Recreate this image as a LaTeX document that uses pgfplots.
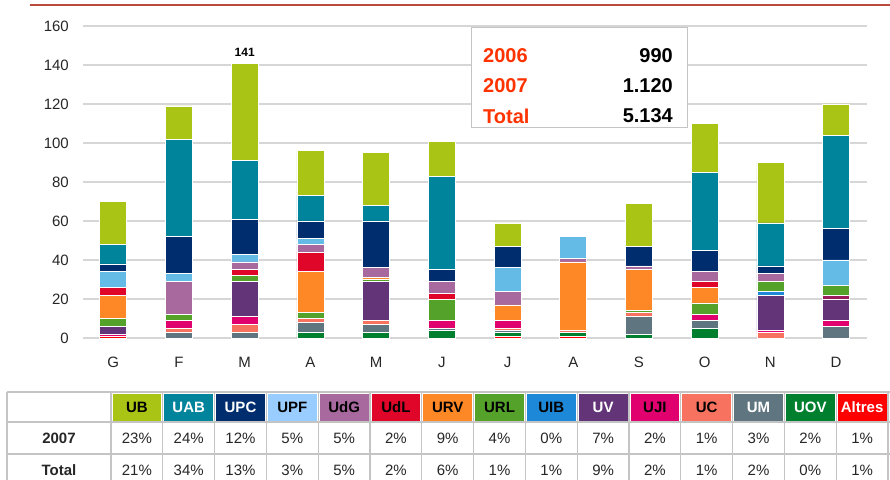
\documentclass[border=0pt]{standalone}
\usepackage{fontspec}
\setmainfont{Liberation Sans}
\usepackage{pgfplots}
\pgfplotsset{compat=1.18}
\usepackage{pgfplotstable}

% bar colours
\definecolor{cAltres}{HTML}{FF0000}
\definecolor{cUOV}{HTML}{00802F}
\definecolor{cUM}{HTML}{5F7580}
\definecolor{cUC}{HTML}{F7735F}
\definecolor{cUJI}{HTML}{E0006E}
\definecolor{cUV}{HTML}{633477}
\definecolor{cUIB}{HTML}{1E88D8}
\definecolor{cDx}{HTML}{9A1C5C}
\definecolor{cURL}{HTML}{55A22B}
\definecolor{cURV}{HTML}{FF8826}
\definecolor{cUdL}{HTML}{E0062A}
\definecolor{cUdG}{HTML}{A7699E}
\definecolor{cUPF}{HTML}{64BBE6}
\definecolor{cUPFh}{HTML}{99CCFF}
\definecolor{cUPC}{HTML}{002D6E}
\definecolor{cUAB}{HTML}{00849C}
\definecolor{cUB}{HTML}{A9C414}
\definecolor{gridgray}{HTML}{D6D6D6}
\definecolor{tabgray}{HTML}{C4C4C4}
\definecolor{boxred}{HTML}{FF3300}
\definecolor{topline}{HTML}{BC4A3C}
\definecolor{txt}{HTML}{262626}

% months G..D, stacked bottom to top
\pgfplotstableread{
x  Altres UOV UM UC UJI UV UIB Dx URL URV UdL UdG UPF UPC UAB UB
0  1 0 0 0 1 4  0 0 4  12 4  0  8  4  10 22
1  0 0 3 2 4 0  0 0 3  0  0  17 4  19 50 17
2  0 0 3 4 4 18 0 0 3  0  3  4  4  18 30 50
3  0 3 5 2 0 0  0 0 3  21 10 4  3  9  13 23
4  0 3 4 2 0 20 0 0 1  1  0  5  0  24 8  27
5  0 4 1 0 4 0  0 0 11 0  3  6  0  6  48 18
6  1 2 1 1 4 0  0 0 0  8  0  7  12 11 0  12
7  1 2 0 1 0 0  0 0 0  35 0  2  11 0  0  0
8  0 2 9 2 0 0  0 0 1  21 0  2  0  10 0  22
9  0 5 4 0 3 0  0 0 6  8  3  5  0  11 40 25
10 0 0 0 3 1 18 2 0 5  0  0  4  0  4  22 31
11 0 0 6 0 3 11 0 2 5  0  0  0  13 16 48 16
}\months

\newcommand{\fs}[1]{\fontsize{#1}{#1}\selectfont}

\begin{document}
\begin{tikzpicture}[x=1pt,y=1pt]
\useasboundingbox (0,0) rectangle (890,479);
\clip (0,0) rectangle (890,479);

\draw[topline, line width=1.4pt] (30,474) -- (890,474);

\begin{axis}[
    at={(83pt,141pt)}, anchor=south west,
    scale only axis, width=784pt, height=312pt,
    ybar stacked, bar width=27pt,
    xmin=-0.46, xmax=11.47, ymin=0, ymax=160,
    xtick={0,...,11},
    xticklabels={G,F,M,A,M,J,J,A,S,O,N,D},
    ytick={0,20,...,160},
    ymajorgrids, grid style={gridgray, line width=1.3pt},
    axis line style={draw=none},
    major tick length=0pt,
    tick label style={font=\fs{15}, text=txt},
    /pgf/number format/assume math mode=true,
    xticklabel style={inner sep=0pt, anchor=north, yshift=-19pt},
    yticklabel style={inner sep=0pt, anchor=east, xshift=-14pt},
    every axis plot/.append style={draw=white, line width=0.6pt},
    clip=false,
]
\addplot[fill=cAltres] table[x=x,y=Altres] {\months};
\addplot[fill=cUOV] table[x=x,y=UOV] {\months};
\addplot[fill=cUM] table[x=x,y=UM] {\months};
\addplot[fill=cUC] table[x=x,y=UC] {\months};
\addplot[fill=cUJI] table[x=x,y=UJI] {\months};
\addplot[fill=cUV] table[x=x,y=UV] {\months};
\addplot[fill=cUIB] table[x=x,y=UIB] {\months};
\addplot[fill=cDx] table[x=x,y=Dx] {\months};
\addplot[fill=cURL] table[x=x,y=URL] {\months};
\addplot[fill=cURV] table[x=x,y=URV] {\months};
\addplot[fill=cUdL] table[x=x,y=UdL] {\months};
\addplot[fill=cUdG] table[x=x,y=UdG] {\months};
\addplot[fill=cUPF] table[x=x,y=UPF] {\months};
\addplot[fill=cUPC] table[x=x,y=UPC] {\months};
\addplot[fill=cUAB] table[x=x,y=UAB] {\months};
\addplot[fill=cUB] table[x=x,y=UB] {\months};
\node[anchor=south, font=\bfseries\fs{12}, inner sep=0pt, yshift=6pt] at (axis cs:2,141) {141};
\end{axis}

% totals box
\draw[tabgray, fill=white, line width=1pt] (471,351) rectangle (687,451);
\foreach \lab/\val/\yy in {2006/990/423, 2007/1.120/393, Total/5.134/363} {
  \node[anchor=west, text=boxred, font=\bfseries\fs{20}, inner sep=0pt] at (483,\yy) {\lab};
  \node[anchor=east, text=black, font=\bfseries\fs{20}, inner sep=0pt] at (673,\yy) {\val};
}

% table
\foreach \name/\col/\tc/\a/\b [count=\i from 0] in {
  UB/cUB/black/23/21, UAB/cUAB/white/24/34, UPC/cUPC/white/12/13,
  UPF/cUPFh/black/5/3, UdG/cUdG/black/5/5, UdL/cUdL/black/2/2,
  URV/cURV/black/9/6, URL/cURL/black/4/1, UIB/cUIB/black/0/1,
  UV/cUV/white/7/9, UJI/cUJI/black/2/2, UC/cUC/black/1/1,
  UM/cUM/white/3/2, UOV/cUOV/white/2/0, Altres/cAltres/white/1/1} {
  \pgfmathsetmacro{\xl}{111+51.8*\i}
  \pgfmathsetmacro{\xc}{\xl+25.9}
  \fill[\col] (\xl+1.5,58.5) rectangle (\xl+50.3,85.5);
  \node[text=\tc, font=\bfseries\fs{15}, inner sep=0pt] at (\xc,72) {\name};
  \node[text=txt, font=\fs{15}, inner sep=0pt] at (\xc,41) {\a\%};
  \node[text=txt, font=\fs{15}, inner sep=0pt] at (\xc,9) {\b\%};
}
\foreach \yy in {87,57,25}
  \draw[tabgray, line width=1.3pt] (7,\yy) -- (892,\yy);
\draw[tabgray, line width=1.3pt] (7,87) -- (7,-10);
\foreach \i in {0,...,15}
  \draw[tabgray, line width=1.3pt] ({111+51.8*\i},87) -- ({111+51.8*\i},-10);
\node[text=txt, font=\bfseries\fs{15}, inner sep=0pt] at (59,41) {2007};
\node[text=txt, font=\bfseries\fs{15}, inner sep=0pt] at (59,9) {Total};
\end{tikzpicture}
\end{document}
